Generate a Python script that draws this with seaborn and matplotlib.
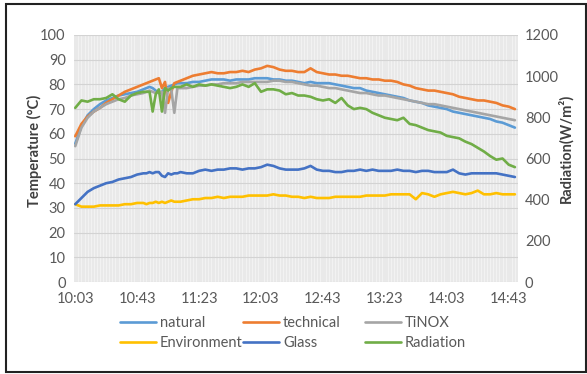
import matplotlib
matplotlib.use("Agg")
import matplotlib.pyplot as plt
from matplotlib.lines import Line2D
from matplotlib.patches import Rectangle
import seaborn as sns
import pandas as pd
import numpy as np

# minutes after 10:03
minutes = [0, 4, 8, 12, 16, 20, 24, 28, 32, 36, 40, 44,
           46, 48, 50, 52, 54, 56, 58, 60, 62, 64, 66,
           68, 72, 76, 80, 84, 88, 92, 96, 100, 104, 108, 112, 116, 120, 124, 128,
           132, 136, 140, 144, 148, 152, 156, 160, 164, 168, 172, 176, 180, 184,
           188, 192, 196, 200, 204, 208, 212, 216, 220, 224, 228, 232, 236, 240,
           244, 248, 252, 256, 260, 264, 268, 272, 276, 280, 284]

natural = [56, 63, 67.5, 70, 72, 73.5, 74.5, 75.5, 76, 76.5, 77, 78,
           78.5, 79, 78.5, 77.5, 76.5, 77, 78.5, 79, 79.5, 80, 80.5,
           80.5, 80.5, 81, 81, 81.5, 82, 82, 82, 81.5, 82, 82, 82, 82.5, 82.5, 82.5, 82,
           82, 81.5, 81.5, 81, 80.5, 81, 80.5, 80.5, 80.5, 80, 79.5, 79, 78.5, 78.5,
           77.5, 77, 76.5, 76, 75.5, 75, 74.5, 73.5, 73, 72.5, 71.5, 71, 70.5, 70,
           69, 68.5, 68, 67.5, 67, 66.5, 66, 65, 64.5, 63.5, 62.5]

technical = [59, 64, 67, 69, 70.5, 72.5, 74, 75.5, 77, 78, 79, 80,
             80.5, 81, 81.5, 82, 82.5, 78.5, 81, 72.5, 77, 80.5, 81,
             81.5, 82.5, 83.5, 84, 84.5, 85, 84.5, 84.5, 85, 85, 85.5, 85, 86, 86.5, 87.5, 87,
             86, 85.5, 85.5, 85, 85, 86.5, 85, 84.5, 84, 84, 83.5, 83.5, 83, 82.5,
             82.5, 82, 82, 81.5, 81.5, 81, 80, 79.5, 78.5, 78, 77.5, 77.5, 77, 76.5,
             76, 75, 74.5, 74, 73.5, 73.5, 73, 72.5, 71.5, 71, 70]

tinox = [55, 62.5, 66.5, 69, 70.5, 72, 73, 74, 74.5, 75.5, 76, 76.5,
         77, 77.5, 77, 76.5, 77, 77, 68.5, 78.5, 78, 68.5, 78.5,
         78.5, 78.5, 79, 79.5, 79.5, 80, 80, 80.5, 80.5, 80.5, 81, 81, 81, 81, 81, 81.5,
         81.5, 81, 81, 80.5, 80, 79.5, 79.5, 79, 78.5, 78.5, 78, 77.5, 77, 76.5,
         76.5, 76, 75.5, 75.5, 75, 74.5, 74, 73.5, 73, 72.5, 72, 72, 71.5, 71,
         70.5, 70, 69.5, 69, 68.5, 68, 67.5, 67, 66.5, 66, 65.5]

environment = [31.5, 30.5, 30.5, 30.5, 31, 31, 31, 31, 31.5, 31.5, 32, 32,
               31.5, 32, 32, 32.5, 32, 32.5, 32, 32.5, 33, 32.5, 32.5,
               32.5, 33, 33.5, 33.5, 34, 34, 34.5, 34, 34.5, 34.5, 34.5, 35, 35, 35, 35, 35.5,
               35, 35, 34.5, 34.5, 34, 34.5, 34, 34, 34, 34.5, 34.5, 34.5, 34.5, 34.5,
               35, 35, 35, 35, 35.5, 35.5, 35.5, 35.5, 33.5, 36, 35.5, 34.5, 35.5, 36,
               36.5, 36, 35.5, 36, 37, 35.5, 35.5, 36, 35.5, 35.5, 35.5]

glass = [31.5, 34, 36.5, 38, 39, 40, 40.5, 41.5, 42, 42.5, 43.5, 44,
         44, 44.5, 44, 44.5, 44.5, 43, 42.5, 44, 43.5, 44, 44,
         44.5, 44, 44, 45, 45.5, 45, 45.5, 45.5, 46, 46, 45.5, 46, 46, 46.5, 47.5, 47,
         46, 45.5, 45.5, 45.5, 46, 47, 45.5, 45, 45, 44.5, 44.5, 45, 45, 45.5,
         45, 45.5, 45, 45, 45, 45.5, 45, 45, 44.5, 45, 45, 44.5, 44.5, 44.5,
         45.5, 44, 43.5, 44, 44, 44, 44, 44, 43.5, 43, 42.5]

radiation = [846, 882, 876, 888, 888, 894, 912, 888, 876, 906, 918, 924,
             924, 924, 828, 912, 936, 828, 942, 930, 942, 948, 948,
             948, 960, 948, 960, 954, 960, 954, 948, 942, 948, 960, 948, 966, 924, 936, 936,
             930, 912, 918, 906, 906, 900, 888, 882, 888, 870, 894, 858, 840, 846,
             840, 822, 810, 798, 792, 786, 798, 768, 762, 750, 738, 732, 726, 710,
             704, 698, 682, 670, 652, 634, 612, 594, 600, 570, 558]

tick_minutes = [0, 40, 80, 120, 160, 200, 240, 280]
tick_labels = ["10:03", "10:43", "11:23", "12:03", "12:43", "13:23", "14:03", "14:43"]

df = pd.DataFrame({"t": minutes, "natural": natural, "technical": technical,
                   "TiNOX": tinox, "Environment": environment, "Glass": glass,
                   "Radiation": radiation})

colors = {"natural": "#5B9BD5", "technical": "#ED7D31", "TiNOX": "#A5A5A5",
          "Environment": "#FFC000", "Glass": "#4472C4", "Radiation": "#70AD47"}

sns.set_theme(style="white")
plt.rcParams["font.family"] = ["Lato", "DejaVu Sans"]
txt = "#595959"

fig = plt.figure(figsize=(5.87, 3.74), dpi=100)
L, R, B, T = 74 / 587, 518 / 587, 1 - 282 / 374, 1 - 35 / 374
ax = fig.add_axes([L, B, R - L, T - B])
ax.set_facecolor("#e9e9e9")
ax2 = ax.twinx()

lw = 1.9
for name in ["natural", "technical", "TiNOX", "Environment", "Glass"]:
    sns.lineplot(data=df, x="t", y=name, ax=ax, color=colors[name], lw=lw, legend=False)
sns.lineplot(data=df, x="t", y="Radiation", ax=ax2, color=colors["Radiation"], lw=lw, legend=False)

ax.set_xlim(-0.8, 286)
ax.set_ylim(0, 100)
ax2.set_ylim(0, 1200)
ax.set_yticks(range(0, 101, 10))
ax2.set_yticks(range(0, 1201, 200))
ax.set_xticks(tick_minutes)
ax.set_xticklabels(tick_labels)

# texture grid
ax.set_xticks(np.arange(0, 287, 2), minor=True)
ax.grid(which="minor", axis="x", color="#f7f7f7", lw=0.5)
ax.grid(which="major", axis="y", color="#d3d3d3", lw=0.8)
ax.set_axisbelow(True)

for s in ax.spines.values():
    s.set_visible(False)
for s in ax2.spines.values():
    s.set_visible(False)

ax.tick_params(axis="both", which="both", length=0, colors=txt, labelsize=10.5)
ax.tick_params(axis="y", pad=6)
ax.tick_params(axis="x", pad=7)
ax2.tick_params(axis="y", length=0, colors=txt, labelsize=10.5, pad=5)

ax.set_xlabel("")
ax.set_ylabel("Temperature (°C)", fontsize=10.5, fontweight="bold", color="#404040")
ax.yaxis.set_label_coords(-0.072, 0.53)
ax2.set_ylabel("Radiation(W/m²)", fontsize=10.5, fontweight="bold", color="#404040")
ax2.yaxis.set_label_coords(1.09, 0.54)

# legend: three columns, placed separately
cols = [["natural", "Environment"], ["technical", "Glass"], ["TiNOX", "Radiation"]]
xs = [120, 243, 365]
for names, x in zip(cols, xs):
    handles = [Line2D([0], [0], color=colors[n], lw=lw) for n in names]
    leg = fig.legend(handles, names, loc="upper left", bbox_to_anchor=(x / 587, 1 - 316 / 374),
                     frameon=False, borderpad=0, borderaxespad=0, handlelength=2.5,
                     handletextpad=0.25, labelspacing=0.42, fontsize=10.5, labelcolor=txt)

fig.add_artist(Rectangle((6 / 587, 2 / 374), 580 / 587, 368 / 374, transform=fig.transFigure,
                         fill=False, lw=1.5, ec="#222222"))

fig.savefig("out.png", dpi=100)
